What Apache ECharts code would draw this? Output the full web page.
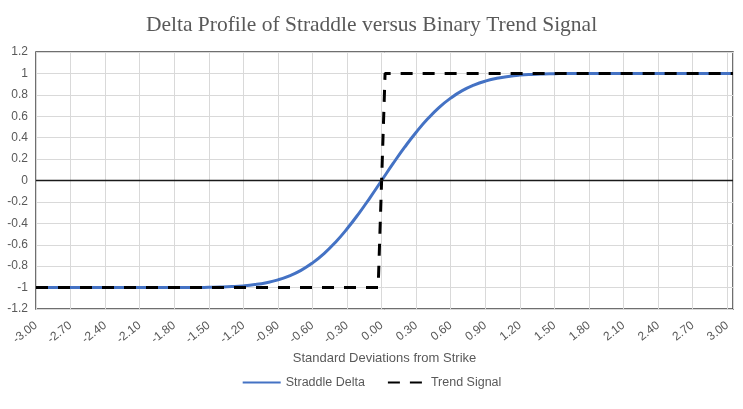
<!DOCTYPE html>
<html>
<head>
<meta charset="utf-8">
<script src="https://cdn.jsdelivr.net/npm/echarts@6/dist/echarts.min.js"></script>
<style>
  html, body { margin: 0; padding: 0; background: #fff; }
  #main { width: 743px; height: 409px; }
</style>
</head>
<body>
<div id="main"></div>
<script>
/* data */
let xValues = [-3.0, -2.9, -2.8, -2.7, -2.6, -2.5, -2.4, -2.3, -2.2, -2.1,
  -2.0, -1.9, -1.8, -1.7, -1.6, -1.5, -1.4, -1.3, -1.2, -1.1,
  -1.0, -0.9, -0.8, -0.7, -0.6, -0.5, -0.4, -0.3, -0.2, -0.1,
  0.0, 0.1, 0.2, 0.3, 0.4, 0.5, 0.6, 0.7, 0.8, 0.9,
  1.0, 1.1, 1.2, 1.3, 1.4, 1.5, 1.6, 1.7, 1.8, 1.9,
  2.0, 2.1, 2.2, 2.3, 2.4, 2.5, 2.6, 2.7, 2.8, 2.9, 3.0, 3.05];
let straddleDelta = [-1, -1, -1, -1, -1, -1, -1, -1, -1, -1,
  -1, -1, -1, -0.999, -0.999, -0.997, -0.995, -0.991, -0.984, -0.972,
  -0.954, -0.928, -0.890, -0.839, -0.770, -0.683, -0.576, -0.451, -0.311, -0.159,
  0, 0.159, 0.311, 0.451, 0.576, 0.683, 0.770, 0.839, 0.890, 0.928,
  0.954, 0.972, 0.984, 0.991, 0.995, 0.997, 0.999, 0.999, 1, 1,
  1, 1, 1, 1, 1, 1, 1, 1, 1, 1, 1, 1];
let trendX = [-3.0, -0.03, 0.03, 3.05];
let trendSignal = [-1, -1, 1, 1];

let seriesNames = ['Straddle Delta', 'Trend Signal'];

let gray = '#595959';

var myChart = echarts.init(document.getElementById('main'));
option = {
  animation: false,
  title: {
    text: 'Delta Profile of Straddle versus Binary Trend Signal',
    left: 'center',
    top: 9,
    textStyle: {fontFamily: 'Liberation Serif', fontSize: 21.5, fontWeight: 'normal', color: gray}
  },
  grid: {
    left: 36, right: 10, top: 52, bottom: 100,
    show: true, borderColor: '#404040', borderWidth: 1.5
  },
  legend: {
    bottom: 15,
    left: 'center',
    itemWidth: 38,
    itemGap: 22,
    itemStyle: {opacity: 0},
    textStyle: {fontFamily: 'Liberation Sans', fontSize: 12.5, color: gray},
    data: seriesNames
  },
  xAxis: {
    type: 'value',
    min: -3, max: 3.05, interval: 0.3,
    name: 'Standard Deviations from Strike',
    nameLocation: 'middle',
    nameGap: 32,
    nameTextStyle: {fontFamily: 'Liberation Sans', fontSize: 13, color: gray},
    axisLine: {show: false},
    axisTick: {show: false},
    splitLine: {lineStyle: {color: '#d9d9d9', width: 1}},
    axisLabel: {
      rotate: 38,
      margin: 15,
      fontFamily: 'Liberation Sans',
      fontSize: 12,
      color: gray,
      showMaxLabel: false,
      formatter: function (v) {
        let k = v / 0.3;
        if (Math.abs(k - Math.round(k)) > 1e-6) return '';
        if (Math.abs(v) < 1e-9) return '0.00';
        return v.toFixed(2);
      }
    }
  },
  yAxis: {
    type: 'value',
    min: -1.2, max: 1.2, interval: 0.2,
    axisLine: {show: false},
    axisTick: {show: false},
    splitLine: {lineStyle: {color: '#d9d9d9', width: 1}},
    axisLabel: {fontFamily: 'Liberation Sans', fontSize: 12, color: gray, margin: 8}
  },
  series: [
    {
      name: seriesNames[0],
      type: 'line',
      data: xValues.map((x, i) => [x, straddleDelta[i]]),
      smooth: true,
      symbol: 'none',
      lineStyle: {color: '#4472C4', width: 3},
      itemStyle: {color: '#4472C4'},
      z: 3,
      markLine: {
        silent: true,
        symbol: 'none',
        label: {show: false},
        lineStyle: {color: '#1a1a1a', width: 1.3, type: 'solid'},
        data: [{yAxis: 0}]
      }
    },
    {
      name: seriesNames[1],
      type: 'line',
      data: trendX.map((x, i) => [x, trendSignal[i]]),
      symbol: 'none',
      lineStyle: {color: '#000', width: 3, type: [12, 10]},
      itemStyle: {color: '#000'},
      z: 4
    }
  ]
};
myChart.setOption(option);
</script>
</body>
</html>
